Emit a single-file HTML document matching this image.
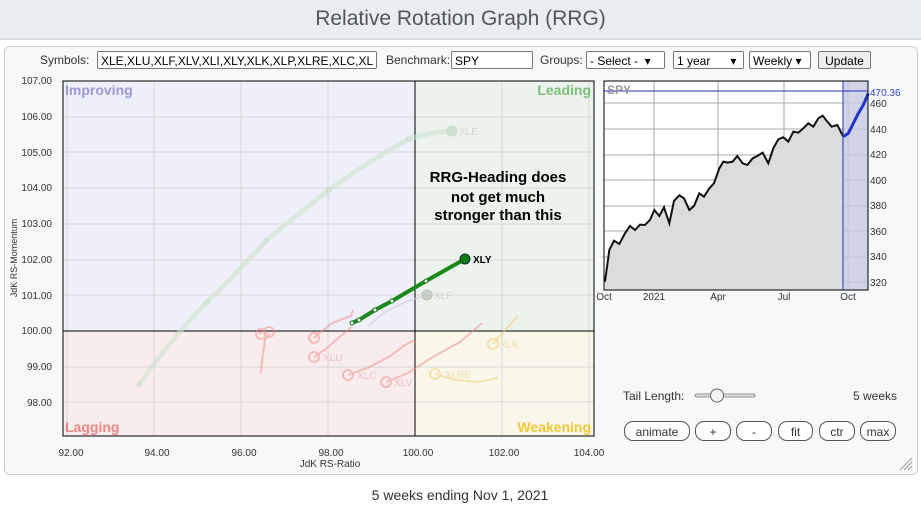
<!DOCTYPE html>
<html><head><meta charset="utf-8"><style>
body{margin:0;width:921px;height:506px;background:#fff;font-family:"Liberation Sans",sans-serif;position:relative;overflow:hidden}
.hdr{position:absolute;left:0;top:0;width:921px;height:38px;background:#e9edf1;border-bottom:2px solid #d5dce3}
.hdr div{text-align:center;font-size:21px;color:#555;line-height:38px}
.card{position:absolute;left:4px;top:46px;width:912px;height:427px;border:1px solid #ccc;border-radius:6px;background:#f7f8fa}
.a{position:absolute;font-size:12px;color:#333}
.in{position:absolute;height:18px;border:1px solid #777;background:#fff;font-size:12px;line-height:18px;padding-left:3px;box-sizing:border-box;color:#000;border-radius:2px;overflow:hidden;white-space:nowrap}
.btn{position:absolute;top:421px;height:20px;border:1px solid #555;border-radius:9px;font-size:12px;text-align:center;line-height:20px;color:#333;background:#fff;box-sizing:border-box}
</style></head><body>
<div class="hdr"><div>Relative Rotation Graph (RRG)</div></div>
<div class="card"></div>
<div class="a" style="left:40px;top:53px">Symbols:</div>
<div class="in" style="left:97px;top:51px;width:280px">XLE,XLU,XLF,XLV,XLI,XLY,XLK,XLP,XLRE,XLC,XL</div>
<div class="a" style="left:386px;top:53px">Benchmark:</div>
<div class="in" style="left:451px;top:51px;width:82px">SPY</div>
<div class="a" style="left:540px;top:53px">Groups:</div>
<div class="in" style="left:586px;top:51px;width:79px">- Select - &nbsp;▾</div>
<div class="in" style="left:673px;top:51px;width:71px">1 year &nbsp;&nbsp;&nbsp;&nbsp;&nbsp;▾</div>
<div class="in" style="left:749px;top:51px;width:62px">Weekly ▾</div>
<div class="in" style="left:818px;top:51px;width:53px;background:#eee;padding:0;text-align:center">Update</div>
<svg style="position:absolute;left:0;top:0" width="921" height="506" font-family="Liberation Sans, sans-serif">
<rect x="63" y="81" width="352" height="250" fill="#eeeff8"/>
<rect x="415" y="81" width="179" height="250" fill="#ecf3ec"/>
<rect x="63" y="331" width="352" height="105" fill="#f9ecec"/>
<rect x="415" y="331" width="179" height="105" fill="#faf6ea"/>
<g stroke="#d8d8d8" stroke-width="1">
<line x1="67" y1="81" x2="67" y2="436"/><line x1="154" y1="81" x2="154" y2="436"/><line x1="241" y1="81" x2="241" y2="436"/><line x1="328" y1="81" x2="328" y2="436"/><line x1="502" y1="81" x2="502" y2="436"/><line x1="589" y1="81" x2="589" y2="436"/>
<line x1="63" y1="117" x2="594" y2="117"/><line x1="63" y1="152" x2="594" y2="152"/><line x1="63" y1="188" x2="594" y2="188"/><line x1="63" y1="224" x2="594" y2="224"/><line x1="63" y1="260" x2="594" y2="260"/><line x1="63" y1="295" x2="594" y2="295"/><line x1="63" y1="367" x2="594" y2="367"/><line x1="63" y1="402" x2="594" y2="402"/>
</g>
<rect x="63" y="81" width="531" height="355" fill="none" stroke="#000"/>
<line x1="415" y1="81" x2="415" y2="436" stroke="#000"/>
<line x1="63" y1="331" x2="594" y2="331" stroke="#000"/>
<g font-size="14" font-weight="bold">
<text x="65" y="95" fill="#9a9ad8">Improving</text>
<text x="591" y="95" fill="#7cbf7c" text-anchor="end">Leading</text>
<text x="65" y="432" fill="#ee8888">Lagging</text>
<text x="591" y="432" fill="#f2c83a" text-anchor="end">Weakening</text>
</g>
<g font-size="10" fill="#333" text-anchor="end">
<text x="52" y="84">107.00</text><text x="52" y="120">106.00</text><text x="52" y="156">105.00</text><text x="52" y="191">104.00</text><text x="52" y="227">103.00</text><text x="52" y="263">102.00</text><text x="52" y="299">101.00</text><text x="52" y="334">100.00</text><text x="52" y="370">99.00</text><text x="52" y="406">98.00</text>
</g>
<g font-size="10" fill="#333" text-anchor="middle">
<text x="71" y="456">92.00</text><text x="157" y="456">94.00</text><text x="244" y="456">96.00</text><text x="331" y="456">98.00</text><text x="418" y="456">100.00</text><text x="504" y="456">102.00</text><text x="589" y="456">104.00</text>
<text x="330" y="467">JdK RS-Ratio</text>
</g>
<text x="17" y="258" font-size="9" fill="#333" text-anchor="middle" transform="rotate(-90 17 258)">JdK RS-Momentum</text>
<!-- XLE -->
<g opacity="0.55">
<path d="M139,385 Q170,340 207,302 Q240,270 266,241 Q300,212 329,190 Q370,160 409,139 Q430,132 452,131" fill="none" stroke="#cde3cd" stroke-width="5"/>
<g fill="none" stroke="#a8c8a8"><circle cx="139" cy="385" r="2"/><circle cx="207" cy="302" r="2"/><circle cx="266" cy="241" r="2"/><circle cx="329" cy="190" r="2"/><circle cx="409" cy="139" r="2"/><circle cx="452" cy="131" r="5" fill="#b8d4b8"/></g>
<text x="459" y="135" font-size="10" fill="#bbb">XLE</text>
<!-- XLF -->
<path d="M368,326 L385,312 L405,302 L427,295" fill="none" stroke="#ccd" stroke-width="2"/>
<circle cx="427" cy="295" r="5" fill="#aab8aa" stroke="#999"/><text x="434" y="299" font-size="10" fill="#bbb">XLF</text>
</g>
<g opacity="0.45" fill="none" stroke="#f08080" stroke-width="2">
<path d="M261,373 L262,360 L264,348 L265,340 L270,333"/><path d="M259,334 L263,330 L266,335"/>
<path d="M314,338 L320,332 L325,329 L332,323 L351,316 L353,310"/>
<path d="M314,357 L326,349 L337,339 L352,327"/>
<path d="M348,375 L370,367 L390,356 L405,345 L413,341 L416,342"/>
<path d="M386,382 L408,373 L428,360 L440,353 L460,342 L474,330 L482,323"/>
<circle cx="261" cy="334" r="5"/><circle cx="269" cy="332" r="5"/><circle cx="314" cy="338" r="5"/><circle cx="314" cy="357" r="5"/><circle cx="348" cy="375" r="5"/><circle cx="386" cy="382" r="5"/>
</g>
<g opacity="0.5" fill="none" stroke="#ecd070" stroke-width="2">
<path d="M493,344 L505,330 L518,316"/><path d="M435,374 L455,380 L478,382 L498,378"/>
<circle cx="493" cy="344" r="5"/><circle cx="435" cy="374" r="5"/>
</g>
<g font-size="10" fill="#e8b8b8" opacity="0.8"><text x="323" y="361">XLU</text><text x="357" y="379">XLC</text><text x="394" y="386">XLV</text><text x="445" y="378" fill="#e8d8a0">XLRE</text><text x="500" y="348" fill="#e8d8a0">XLK</text></g>
<!-- XLY -->
<path d="M352,323 L359,320 L375,310 L392,301 L426,281 L465,259" fill="none" stroke="#1a8a1a" stroke-width="4"/>
<g fill="#fff" stroke="#1a6a1a" stroke-width="1"><circle cx="352" cy="323" r="2"/><circle cx="359" cy="320" r="2"/><circle cx="375" cy="310" r="2"/><circle cx="392" cy="301" r="2"/><circle cx="426" cy="281" r="2"/></g>
<circle cx="465" cy="259" r="5" fill="#0d7a0d" stroke="#033" stroke-width="1"/>
<text x="473" y="263" font-size="10" font-weight="bold" fill="#000">XLY</text>
<g font-size="15" font-weight="bold" fill="#000" text-anchor="middle">
<text x="498" y="182">RRG-Heading does</text><text x="498" y="202">not get much</text><text x="498" y="220">stronger than this</text>
</g>
<!-- SPY -->
<rect x="604" y="81" width="264" height="209" fill="#fff"/>
<g stroke="#aaa" stroke-width="1">
<line x1="654" y1="81" x2="654" y2="290"/><line x1="718" y1="81" x2="718" y2="290"/><line x1="784" y1="81" x2="784" y2="290"/><line x1="848" y1="81" x2="848" y2="290"/>
<line x1="604" y1="103" x2="868" y2="103"/><line x1="604" y1="129" x2="868" y2="129"/><line x1="604" y1="155" x2="868" y2="155"/><line x1="604" y1="180" x2="868" y2="180"/><line x1="604" y1="206" x2="868" y2="206"/><line x1="604" y1="231" x2="868" y2="231"/><line x1="604" y1="257" x2="868" y2="257"/><line x1="604" y1="282" x2="868" y2="282"/>
</g>
<rect x="843" y="81" width="25" height="209" fill="#c6c9e0" opacity="0.8"/>
<g transform="translate(590,70) scale(0.3333)">
<path d="M45,635 L58,540 L72,512 L88,522 L105,490 L120,468 L135,480 L150,464 L165,465 L180,450 L193,420 L208,438 L222,412 L238,460 L252,393 L268,376 L282,385 L298,420 L312,408 L328,370 L342,380 L358,355 L372,340 L388,295 L400,275 L412,278 L428,275 L442,258 L458,280 L472,285 L488,265 L502,258 L518,248 L535,280 L550,235 L565,208 L580,202 L595,215 L610,185 L625,188 L640,175 L655,160 L670,170 L685,145 L698,137 L712,155 L725,170 L742,165 L760,200 L760,660 L45,660 Z" fill="#dcdcdc"/>
<path d="M45,635 L58,540 L72,512 L88,522 L105,490 L120,468 L135,480 L150,464 L165,465 L180,450 L193,420 L208,438 L222,412 L238,460 L252,393 L268,376 L282,385 L298,420 L312,408 L328,370 L342,380 L358,355 L372,340 L388,295 L400,275 L412,278 L428,275 L442,258 L458,280 L472,285 L488,265 L502,258 L518,248 L535,280 L550,235 L565,208 L580,202 L595,215 L610,185 L625,188 L640,175 L655,160 L670,170 L685,145 L698,137 L712,155 L725,170 L742,165 L760,200" fill="none" stroke="#111" stroke-width="6"/>
<path d="M760,200 L775,190 L790,160 L805,130 L820,105 L835,70" fill="none" stroke="#2233cc" stroke-width="9"/>
</g>
<line x1="843" y1="81" x2="843" y2="290" stroke="#2233bb"/>
<line x1="604" y1="91" x2="868" y2="91" stroke="#2233bb"/>
<rect x="604" y="81" width="264" height="209" fill="none" stroke="#000"/>
<text x="607" y="94" font-size="12" font-weight="bold" fill="#999">SPY</text>
<g font-size="10" fill="#333"><text x="870" y="107">460</text><text x="870" y="133">440</text><text x="870" y="158">420</text><text x="870" y="184">400</text><text x="870" y="209">380</text><text x="870" y="235">360</text><text x="870" y="260">340</text><text x="870" y="286">320</text><text x="870" y="96" fill="#3344cc">470.36</text></g>
<g font-size="10" fill="#333" text-anchor="middle"><text x="604" y="300">Oct</text><text x="654" y="300">2021</text><text x="718" y="300">Apr</text><text x="784" y="300">Jul</text><text x="848" y="300">Oct</text></g>
<text x="623" y="400" font-size="12" fill="#333">Tail Length:</text>
<rect x="695" y="394" width="60" height="3" rx="1.5" fill="#ddd" stroke="#777" stroke-width="0.8"/>
<circle cx="717" cy="395.5" r="6.5" fill="#f4f4f4" stroke="#666"/>
<text x="853" y="400" font-size="12" fill="#333">5 weeks</text>
<g stroke="#999" stroke-width="1"><line x1="900" y1="470" x2="912" y2="458"/><line x1="904" y1="470" x2="912" y2="462"/><line x1="908" y1="470" x2="912" y2="466"/></g>
<text x="460" y="500" font-size="14" fill="#333" text-anchor="middle">5 weeks ending Nov 1, 2021</text>
</svg>
<div class="btn" style="left:624px;width:66px">animate</div>
<div class="btn" style="left:695px;width:36px">+</div>
<div class="btn" style="left:736px;width:36px">-</div>
<div class="btn" style="left:778px;width:35px">fit</div>
<div class="btn" style="left:819px;width:36px">ctr</div>
<div class="btn" style="left:860px;width:36px">max</div>
</body></html>
